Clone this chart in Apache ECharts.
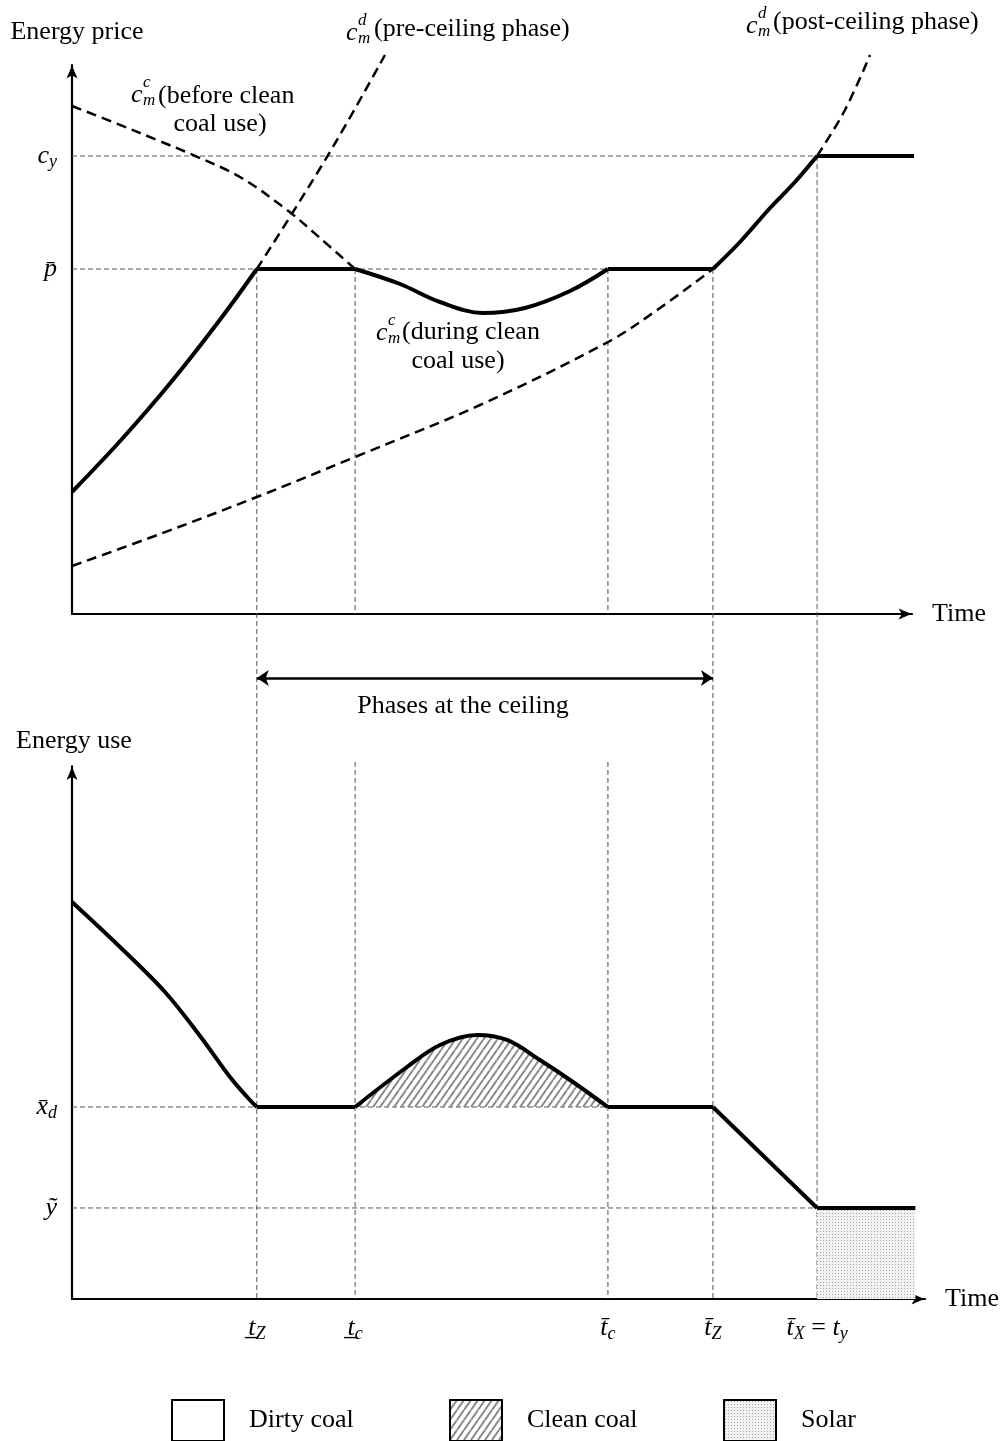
<!DOCTYPE html>
<html><head><meta charset="utf-8">
<script src="https://cdn.jsdelivr.net/npm/echarts@6/dist/echarts.min.js"></script>
<style>html,body{margin:0;padding:0;background:#fff}#c{width:1003px;height:1441px}</style>
</head><body><div id="c"></div>
<script>
// ---------------- DATA (schematic values) ----------------
// time positions of the phase boundaries: t_Z, t_c, t̄_c, t̄_Z, t̄_X = t_y
const markerT = [2.2, 3.37, 6.38, 7.63, 8.87];
const markerLabels = ['{i|t\u0332}{s|Z}', '{i|t\u0332}{s|c}', '{i|t\u0304}{s|c}', '{i|t\u0304}{s|Z}', '{i|t\u0304}{s|X}{r| = }{i|t}{s|y}'];
const tEnd = 10.04;

// price levels (top panel)
const pBar = 6.284;
const cY = 8.342;
const priceTickValues = [pBar, cY];
const priceTickLabels = ['{i|p\u0304}', '{i|c}{s|y}'];

// energy-use levels (bottom panel)
const xdBar = 3.497;
const yTilde = 1.658;
const useTickValues = [yTilde, xdBar];
const useTickLabels = ['{i|\u1EF9}', '{i|x\u0304}{s|d}'];

// top panel: energy price path (solid, heavy)
const priceRise  = [[0, 2.222], [0.595, 3.188], [1.19, 4.244], [1.786, 5.410], [2.2, 6.284]];
const priceDip   = [[3.37, 6.284], [3.905, 6.011], [4.381, 5.683], [4.893, 5.483], [5.393, 5.574], [5.929, 5.883], [6.38, 6.284]];
const priceClimb = [[7.63, 6.284], [7.952, 6.776], [8.31, 7.395], [8.607, 7.869], [8.87, 8.342]];

// top panel: marginal cost curves (dashed)
const ccBefore  = [[0, 9.253], [0.571, 8.91], [1.012, 8.634], [1.44, 8.361], [2.0, 7.960], [2.56, 7.359], [2.952, 6.849], [3.37, 6.284]];
const cdPre     = [[2.2, 6.284], [2.631, 7.322], [3.155, 8.634], [3.726, 10.182]];
const ccDuring  = [[0, 0.874], [1.048, 1.457], [2.2, 2.131], [3.37, 2.86], [4.857, 3.807], [6.38, 4.954], [7.0, 5.574], [7.63, 6.284]];
const cdPost    = [[8.87, 8.342], [9.202, 9.18], [9.5, 10.182]];

// bottom panel: energy use path (solid, heavy)
const useFall  = [[0, 7.231], [0.571, 6.412], [1.107, 5.592], [1.524, 4.791], [1.881, 4.044], [2.095, 3.661], [2.2, 3.497]];
const useBump  = [[3.37, 3.497], [3.988, 4.226], [4.381, 4.627], [4.821, 4.809], [5.179, 4.718], [5.571, 4.353], [5.964, 3.953], [6.38, 3.497]];
const useDrop  = [[7.63, 3.497], [8.87, 1.658]];

// ---------------- LAYOUT ----------------
const FONT = 'Liberation Serif';
const XPX = 84, YPX = 54.9;
const L = 72;
const TOP_AXIS_Y = 614, TOP_YMAX = 10, TOP_XMAX = 10;
const BOT_AXIS_Y = 1299, BOT_YMAX = 9.7, BOT_XMAX = 10.155;
const gapToBottomAxis = -(BOT_AXIS_Y - TOP_AXIS_Y) / YPX; // bottom x-axis expressed in top-panel units
const bottomDashStart = (BOT_AXIS_Y - 762) / YPX;         // where the short dashed guides restart
const arrowRowY = -(678 - TOP_AXIS_Y) / YPX;               // "phases at the ceiling" arrow row
const ARROW = 'path://M6,0L12,14L6,10.5L0,14Z';

function makeHatch() {
  const c = document.createElement('canvas'); c.width = 7; c.height = 10;
  const g = c.getContext('2d');
  g.strokeStyle = '#8a8a8a'; g.lineWidth = 2; g.beginPath();
  g.moveTo(0, 10); g.lineTo(7, 0);
  g.moveTo(-7, 10); g.lineTo(0, 0);
  g.moveTo(7, 10); g.lineTo(14, 0);
  g.stroke(); return c;
}
function makeDots() {
  const c = document.createElement('canvas'); c.width = 3; c.height = 3;
  const g = c.getContext('2d');
  g.fillStyle = '#f2f2f2'; g.fillRect(0, 0, 3, 3);
  g.fillStyle = '#a6a6a6'; g.fillRect(1, 1, 1, 1);
  return c;
}
const hatch = {image: makeHatch(), repeat: 'repeat'};
const dots = {image: makeDots(), repeat: 'repeat'};

const richMath = {
  i: {fontFamily: FONT, fontStyle: 'italic', fontSize: 26, lineHeight: 30, color: '#000'},
  s: {fontFamily: FONT, fontStyle: 'italic', fontSize: 18, lineHeight: 14, verticalAlign: 'bottom', color: '#000'},
  r: {fontFamily: FONT, fontSize: 26, lineHeight: 30, color: '#000'}
};
function pick(vals, labels) {
  return function (v) { const k = vals.findIndex(u => Math.abs(u - v) < 1e-6); return k >= 0 ? labels[k] : ''; };
}

const HEAVY = {color: '#000', width: 4};
const DASH = {color: '#000', width: 2.5, type: [10, 6]};
const GUIDE = {color: '#555', width: 1, type: [5, 3]};

function ln(data, style, grid, extra) {
  return Object.assign({
    type: 'line', data: data, xAxisIndex: grid, yAxisIndex: grid, symbol: 'none', showSymbol: false,
    clip: false, silent: true, lineStyle: style, z: 3, animation: false
  }, extra || {});
}

const series = [];
// guides, top panel
series.push(ln([[0, cY], [markerT[4], cY]], GUIDE, 0, {z: 1}));
series.push(ln([[0, pBar], [markerT[3], pBar]], GUIDE, 0, {z: 1}));
// vertical guides
const fullLength = [true, false, false, true, true];
markerT.forEach((t, k) => {
  const top = k === 4 ? cY : pBar;
  if (fullLength[k]) {
    series.push(ln([[t, top], [t, gapToBottomAxis]], GUIDE, 0, {z: 1}));
  } else {
    series.push(ln([[t, top], [t, 0]], GUIDE, 0, {z: 1}));
    series.push(ln([[t, bottomDashStart], [t, 0]], GUIDE, 1, {z: 1}));
  }
});
// guides, bottom panel
series.push(ln([[0, xdBar], [markerT[2], xdBar]], GUIDE, 1, {z: 1}));
series.push(ln([[0, yTilde], [markerT[4], yTilde]], GUIDE, 1, {z: 1}));

// dashed marginal-cost curves
[ccBefore, cdPre, ccDuring, cdPost].forEach(d => series.push(ln(d, DASH, 0, {smooth: 0.35, z: 2})));

// heavy price path
series.push(ln(priceRise, HEAVY, 0, {smooth: 0.35}));
series.push(ln([[markerT[0], pBar], [markerT[1], pBar]], HEAVY, 0));
series.push(ln(priceDip, HEAVY, 0, {smooth: 0.35}));
series.push(ln([[markerT[2], pBar], [markerT[3], pBar]], HEAVY, 0));
series.push(ln(priceClimb, HEAVY, 0, {smooth: 0.35}));
series.push(ln([[markerT[4], cY], [tEnd, cY]], HEAVY, 0));

// bottom: areas
series.push(ln(useBump, {width: 0, opacity: 0}, 1, {name: 'Clean coal', smooth: 0.35, z: 2,
  areaStyle: {color: hatch, opacity: 1, origin: xdBar}, itemStyle: {color: '#888'}}));
series.push(ln([[markerT[4], yTilde], [tEnd, yTilde]], {width: 0, opacity: 0}, 1, {name: 'Solar', z: 2,
  areaStyle: {color: dots, opacity: 1, origin: 'start'}, itemStyle: {color: '#ccc'}}));

// heavy energy-use path
series.push(ln(useFall, HEAVY, 1, {name: 'Dirty coal', smooth: 0.35, itemStyle: {color: '#fff'}}));
series.push(ln([[markerT[0], xdBar], [markerT[1], xdBar]], HEAVY, 1));
series.push(ln(useBump, HEAVY, 1, {smooth: 0.35}));
series.push(ln([[markerT[2], xdBar], [markerT[3], xdBar]], HEAVY, 1));
series.push(ln(useDrop, HEAVY, 1));
series.push(ln([[markerT[4], yTilde], [tEnd, yTilde]], HEAVY, 1));

// double arrow "phases at the ceiling"
series.push({
  type: 'lines', coordinateSystem: 'cartesian2d', xAxisIndex: 0, yAxisIndex: 0, clip: false, silent: true,
  symbol: ['arrow', 'arrow'], symbolSize: 12, animation: false, z: 4,
  lineStyle: {color: '#000', width: 2.5, opacity: 1, curveness: 0},
  data: [{coords: [[markerT[0], arrowRowY], [markerT[3], arrowRowY]]}]
});

function txt(x, y, text, size, italic, align) {
  return {type: 'text', x: x, y: y, silent: true, z: 10,
    style: {text: text, fill: '#000', font: (italic ? 'italic ' : '') + size + 'px "' + FONT + '"',
      align: align || 'left', verticalAlign: 'middle', textAlign: align || 'left', textVerticalAlign: 'middle'}};
}
function cm(x, y, sup) {
  return [txt(x, y, 'c', 26, true), txt(x + 12, y - 12, sup, 17, true), txt(x + 12, y + 6, 'm', 17, true)];
}
const graphics = [].concat(
  cm(346, 33, 'd'), [txt(374, 29, '(pre-ceiling phase)', 26, false)],
  cm(746, 26, 'd'), [txt(773, 22, '(post-ceiling phase)', 26, false)],
  cm(131, 95, 'c'), [txt(158, 96, '(before clean', 26, false), txt(220, 124, 'coal use)', 26, false, 'center')],
  cm(376, 333, 'c'), [txt(402, 332, '(during clean', 26, false), txt(458, 361, 'coal use)', 26, false, 'center')],
  [txt(463, 706, 'Phases at the ceiling', 26, false, 'center')]
);

const axisLineStyle = {show: true, lineStyle: {color: '#000', width: 2.2}, symbol: ['none', ARROW], symbolSize: [11, 14], symbolOffset: [0, -7]};
const nameStyle = {fontFamily: FONT, fontSize: 26, color: '#000'};

const legendBase = {top: 1399, padding: 0, itemWidth: 52, itemHeight: 41, selectedMode: false, icon: 'rect',
  textStyle: {fontFamily: FONT, fontSize: 26, color: '#000', padding: [0, 0, 0, 20]}};

const option = {
  animation: false,
  backgroundColor: '#fff',
  grid: [
    {left: L, top: TOP_AXIS_Y - TOP_YMAX * YPX, width: TOP_XMAX * XPX, height: TOP_YMAX * YPX, containLabel: false, outerBoundsMode: 'none'},
    {left: L, top: BOT_AXIS_Y - BOT_YMAX * YPX, width: BOT_XMAX * XPX, height: BOT_YMAX * YPX, containLabel: false, outerBoundsMode: 'none'}
  ],
  xAxis: [
    {type: 'value', gridIndex: 0, min: 0, max: TOP_XMAX, name: 'Time', nameLocation: 'end', nameGap: 20, nameTextStyle: nameStyle,
      axisLine: axisLineStyle, axisTick: {show: false}, axisLabel: {show: false}, splitLine: {show: false}},
    {type: 'value', gridIndex: 1, min: 0, max: BOT_XMAX, name: 'Time', nameLocation: 'end', nameGap: 20, nameTextStyle: nameStyle,
      axisLine: axisLineStyle, axisTick: {show: false}, splitLine: {show: false},
      axisLabel: {show: true, customValues: markerT, formatter: pick(markerT, markerLabels), rich: richMath, margin: 14, hideOverlap: false}}
  ],
  yAxis: [
    {type: 'value', gridIndex: 0, min: 0, max: TOP_YMAX, name: 'Energy price', nameLocation: 'end', nameGap: 20,
      nameTextStyle: Object.assign({padding: [0, 0, 0, 10]}, nameStyle),
      axisLine: axisLineStyle, axisTick: {show: false}, splitLine: {show: false},
      axisLabel: {show: true, customValues: priceTickValues, formatter: pick(priceTickValues, priceTickLabels), rich: richMath, margin: 15}},
    {type: 'value', gridIndex: 1, min: 0, max: BOT_YMAX, name: 'Energy use', nameLocation: 'end', nameGap: 12,
      nameTextStyle: Object.assign({padding: [0, 0, 0, 4]}, nameStyle),
      axisLine: axisLineStyle, axisTick: {show: false}, splitLine: {show: false},
      axisLabel: {show: true, customValues: useTickValues, formatter: pick(useTickValues, useTickLabels), rich: richMath, margin: 15}}
  ],
  legend: [
    Object.assign({}, legendBase, {left: 171, data: [{name: 'Dirty coal', itemStyle: {color: '#fff', borderColor: '#000', borderWidth: 2}}]}),
    Object.assign({}, legendBase, {left: 449, data: [{name: 'Clean coal', itemStyle: {color: hatch, borderColor: '#000', borderWidth: 2}}]}),
    Object.assign({}, legendBase, {left: 723, data: [{name: 'Solar', itemStyle: {color: dots, borderColor: '#000', borderWidth: 2}}]})
  ],
  graphic: graphics,
  series: series
};

const chart = echarts.init(document.getElementById('c'), null, {renderer: 'canvas'});
chart.setOption(option);
</script>
</body></html>
